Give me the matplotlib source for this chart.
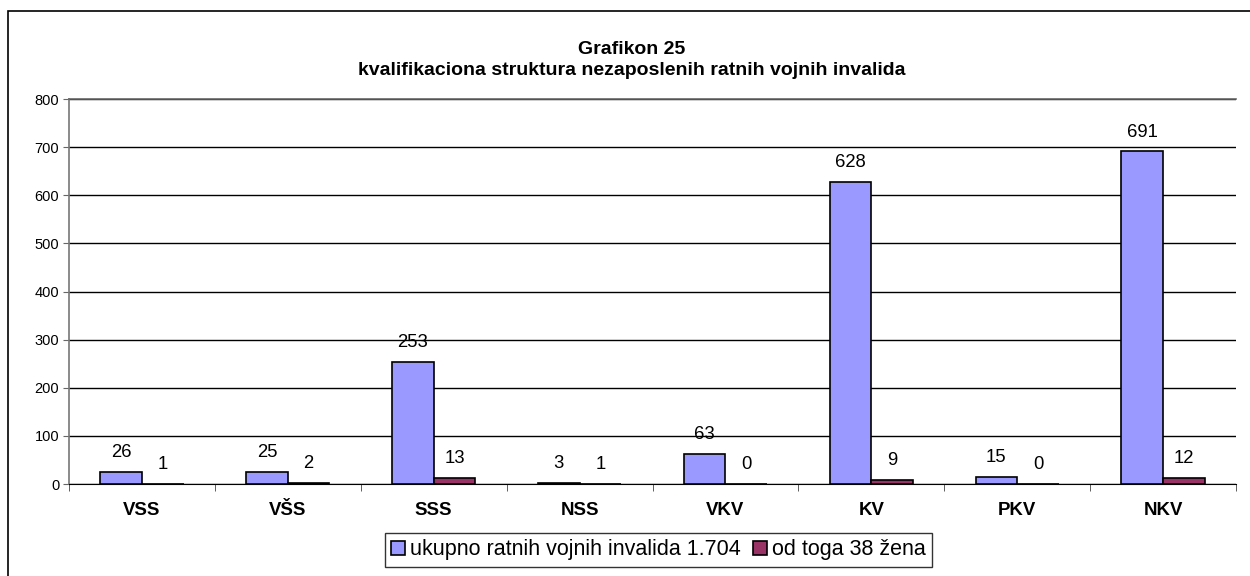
import matplotlib.pyplot as plt
import numpy as np
from matplotlib.patches import Rectangle

# --- Dados ---
kategorije = ['VSS', 'VŠS', 'SSS', 'NSS', 'VKV', 'KV', 'PKV', 'NKV']
ukupno = [26, 25, 253, 3, 63, 628, 15, 691]
zene = [1, 2, 13, 1, 0, 9, 0, 12]
naziv_ukupno = 'ukupno ratnih vojnih invalida 1.704'
naziv_zene = 'od toga 38 žena'
naslov = 'Grafikon 25\nkvalifikaciona struktura nezaposlenih ratnih vojnih invalida'

plt.rcParams['font.family'] = ['Liberation Sans', 'DejaVu Sans']

fig = plt.figure(figsize=(12.5, 5.76), dpi=100)
# okvir oko cijelog grafikona (desna i donja ivica su odsjecene)
fig.patches.append(Rectangle((0.0064, -0.05), 1.1, 1 - 11 / 576 + 0.05,
                             transform=fig.transFigure, fill=False,
                             edgecolor='black', linewidth=1.2))

ax = fig.add_axes([0.0552, 0.1597, 0.9336, 0.6684])
x = np.arange(len(kategorije))
sirina = 0.285

b1 = ax.bar(x - sirina / 2, ukupno, sirina, color='#9999FF', edgecolor='black',
            linewidth=1.2, label=naziv_ukupno, zorder=3)
b2 = ax.bar(x + sirina / 2, zene, sirina, color='#993366', edgecolor='black',
            linewidth=1.2, label=naziv_zene, zorder=3)

for barovi in (b1, b2):
    for b in barovi:
        ax.annotate(str(int(b.get_height())), (b.get_x() + b.get_width() / 2, b.get_height()),
                    xytext=(0, 14), textcoords='offset points', ha='center', va='center',
                    fontsize=13.3)

ax.set_xlim(-0.5, len(kategorije) - 0.5)
ax.set_ylim(0, 800)
ax.set_yticks(range(0, 801, 100))
ax.tick_params(axis='y', labelsize=10.5, length=4, color='#666666', pad=3)
ax.set_xticks(x)
ax.set_xticklabels(kategorije, fontsize=13.4, fontweight='bold')
ax.tick_params(axis='x', length=0, pad=13)
ax.set_xticks(np.arange(-0.5, len(kategorije)), minor=True)
ax.tick_params(axis='x', which='minor', length=5, color='#444444')
ax.grid(axis='y', color='black', linewidth=1.0, zorder=0)

ax.spines['right'].set_visible(False)
ax.spines['top'].set_color('#666666')
ax.spines['top'].set_linewidth(1.2)
ax.spines['left'].set_color('#777777')
ax.spines['left'].set_linewidth(1.2)
ax.spines['bottom'].set_color('black')

fig.text(0.505, 1 - 60 / 576, naslov, fontsize=14, fontweight='bold', ha='center',
         va='center', linespacing=1.25)

leg = ax.legend(loc='upper center', bbox_to_anchor=(0.505, -0.127), ncol=2, fontsize=15.5,
                frameon=True, fancybox=False, edgecolor='black', handlelength=0.65,
                handleheight=0.65, handletextpad=0.2, columnspacing=0.6, borderpad=0.3,
                borderaxespad=0)
leg.get_frame().set_linewidth(1.0)

plt.savefig('out.png', dpi=100)
